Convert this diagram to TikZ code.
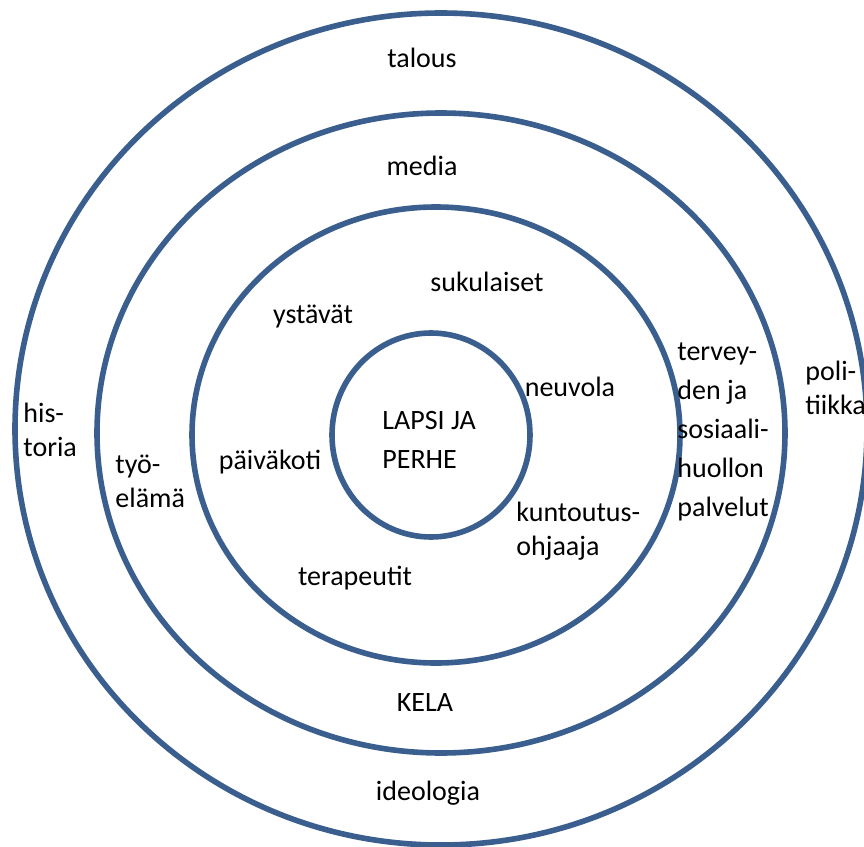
\documentclass[tikz,border=0pt]{standalone}
\usepackage{fontspec}
\setmainfont{Carlito}
\definecolor{ringblue}{HTML}{3A5F8E}

\begin{document}
\begin{tikzpicture}[x=0.5pt, y=-0.5pt,
    ring/.style={draw=ringblue, line width=2.8pt},
    lbl/.style={inner sep=0pt, font=\fontsize{14}{19.5}\selectfont},
    stack/.style={lbl, align=left, anchor=west},
    tight/.style={stack, font=\fontsize{14}{17}\selectfont}]
  \useasboundingbox (0,0) rectangle (864,847);
  \fill[white] (0,0) rectangle (864,847);
  % rings
  \draw[ring] (441,429) ellipse [x radius=426, y radius=416];
  \draw[ring] (441,433) ellipse [x radius=344, y radius=320];
  \draw[ring] (436,435) ellipse [x radius=244, y radius=228];
  \draw[ring] (431,435) ellipse [x radius=99, y radius=102];
  % outer ring
  \node[lbl] (talous) at (422,58) {talous};
  \node[lbl] (ideologia) at (428,793) {ideologia};
  \node[tight] (historia) at (23,430) {his-\\toria};
  \node[tight] (politiikka) at (805,388) {poli-\\tiikka};
  % second ring
  \node[lbl] (media) at (422,166) {media};
  \node[lbl] (kela) at (425,703) {KELA};
  \node[tight] (tyoelama) at (115,481) {työ-\\elämä};
  \node[stack] (palvelut) at (677,432) {tervey-\\den ja\\sosiaali-\\huollon\\palvelut};
  % third ring
  \node[lbl] (sukulaiset) at (487,282) {sukulaiset};
  \node[lbl] (ystavat) at (313,316) {ystävät};
  \node[lbl] (neuvola) at (570,387) {neuvola};
  \node[lbl] (paivakoti) at (270,462) {päiväkoti};
  \node[tight] (kuntoutus) at (516,531) {kuntoutus-\\ohjaaja};
  \node[lbl] (terapeutit) at (355,578) {terapeutit};
  % centre
  \node[stack] (perhe) at (382,440) {LAPSI JA\\PERHE};
\end{tikzpicture}
\end{document}
